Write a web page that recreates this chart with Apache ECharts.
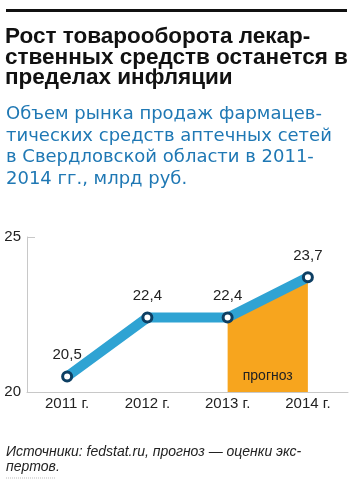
<!DOCTYPE html>
<html>
<head>
<meta charset="utf-8">
<script src="https://cdn.jsdelivr.net/npm/echarts@6/dist/echarts.min.js"></script>
<style>
  html, body { margin: 0; padding: 0; background: #fff; }
  #chart { width: 354px; height: 486px; }
</style>
</head>
<body>
<div id="chart"></div>
<script>
// данные с картинки
var years = ['2011 г.', '2012 г.', '2013 г.', '2014 г.'];
var sales = [20.5, 22.4, 22.4, 23.7];
var forecast = [null, null, 22.4, 23.7];
var yTicks = [20, 25];
var forecastLabel = 'прогноз';

var titleText = 'Рост товарооборота лекар-\nственных средств останется в\nпределах инфляции';
var subText = 'Объем рынка продаж фармацев-\nтических средств аптечных сетей\nв Свердловской области в 2011-\n2014 гг., млрд руб.';
var sourceText = 'Источники: fedstat.ru, прогноз — оценки экс-\nпертов.';

var chart = echarts.init(document.getElementById('chart'));

var font = 'Liberation Sans, Arial, sans-serif';

var option = {
    animation: false,
    textStyle: { fontFamily: font },
    title: [{
        text: titleText,
        left: 5, top: 27, padding: 0,
        textStyle: { fontSize: 22.5, fontWeight: 'bold', color: '#111', lineHeight: 20.5 }
    }, {
        text: subText,
        left: 6, top: 104, padding: 0,
        textStyle: { fontSize: 18, fontFamily: 'DejaVu Sans', fontWeight: 'normal', color: '#1f78b4', lineHeight: 21.5 }
    }, {
        text: sourceText,
        left: 6, top: 445, padding: 0,
        textStyle: { fontSize: 14, fontStyle: 'italic', fontWeight: 'normal', color: '#222', lineHeight: 15 }
    }],
    graphic: [{
        type: 'rect',
        shape: { x: 6, y: 9, width: 341, height: 3 },
        style: { fill: '#111' }
    }, {
        type: 'line',
        shape: { x1: 6, y1: 478, x2: 56, y2: 478 },
        style: { stroke: '#bbb', lineWidth: 1, lineDash: [1, 1] }
    }],
    grid: { left: 27, right: 6, top: 237, bottom: 94 },
    xAxis: {
        type: 'category',
        data: years,
        boundaryGap: true,
        axisLine: { lineStyle: { color: '#c8c8c8', width: 1 } },
        axisTick: { inside: true, length: 6, lineStyle: { color: '#9a9a9a' } },
        axisLabel: { fontSize: 15, color: '#222', margin: 4 }
    },
    yAxis: {
        type: 'value',
        min: yTicks[0], max: yTicks[1], interval: yTicks[1] - yTicks[0],
        axisLine: { show: true, lineStyle: { color: '#c8c8c8', width: 1 } },
        axisTick: { show: true, inside: true, length: 8, lineStyle: { color: '#c8c8c8' } },
        splitLine: { show: false },
        axisLabel: { fontSize: 15, color: '#222', margin: 6 }
    },
    series: [{
        type: 'line',
        data: forecast,
        symbol: 'none',
        lineStyle: { width: 0 },
        areaStyle: { color: '#f7a51e', opacity: 1, origin: 'start' },
        z: 1
    }, {
        type: 'line',
        data: sales,
        symbol: 'circle',
        symbolSize: 9,
        lineStyle: { color: '#2fa3d3', width: 10, cap: 'round', join: 'round' },
        itemStyle: { color: '#fff', borderColor: '#0d3f63', borderWidth: 3 },
        label: {
            show: true, position: 'top', distance: 8,
            fontSize: 15, color: '#222',
            formatter: function (p) { return String(p.value).replace('.', ','); }
        },
        z: 3
    }]
};
chart.setOption(option);

// подпись «прогноз» посередине между 2013 и 2014
var p1 = chart.convertToPixel({ seriesIndex: 0 }, [2, yTicks[0]]);
var p2 = chart.convertToPixel({ seriesIndex: 0 }, [3, yTicks[0]]);
chart.setOption({
    graphic: [{}, {}, {
        type: 'text',
        x: (p1[0] + p2[0]) / 2,
        y: p1[1] - 16,
        z: 10,
        style: {
            text: forecastLabel, fill: '#222', font: '14px ' + font,
            align: 'center', verticalAlign: 'middle'
        }
    }]
});
</script>
</body>
</html>
